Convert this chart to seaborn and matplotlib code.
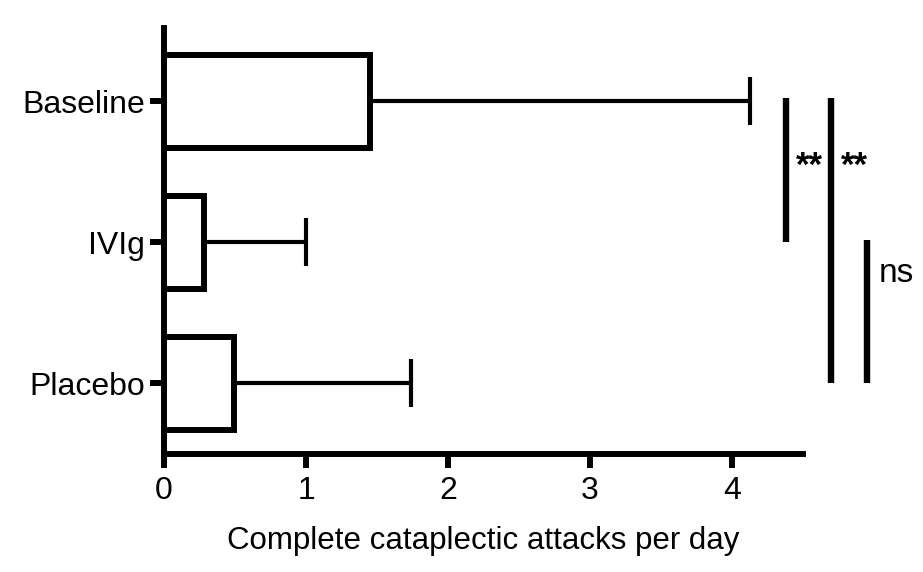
import pandas as pd
import seaborn as sns
import matplotlib.pyplot as plt

groups = ["Baseline", "IVIg", "Placebo"]
means = [1.45, 0.28, 0.49]
upper = [4.13, 1.0, 1.74]  # end of the error bar
xticks = [0, 1, 2, 3, 4]

sns.set_style("ticks")
plt.rcParams['font.family'] = ['Liberation Sans', 'DejaVu Sans']
plt.rcParams['text.color'] = 'black'
plt.rcParams['axes.labelcolor'] = 'black'

df = pd.DataFrame({"group": groups, "mean": means, "upper": upper})

fig = plt.figure(figsize=(9.23, 5.72), dpi=100)
ax = fig.add_axes([0.1777, 0.2063, 0.6923, 0.745])

# error bars first, bars are drawn on top
err = df["upper"] - df["mean"]
ax.errorbar(df["mean"], range(len(groups)), xerr=[[0] * len(groups), err],
            fmt='none', ecolor='black', elinewidth=3, capsize=17, capthick=3, zorder=1)

sns.barplot(data=df, x="mean", y="group", orient="h", color="white",
            edgecolor="black", linewidth=4.3, width=0.66, errorbar=None, ax=ax, zorder=2)

ax.set_xlim(0, 4.5)
ax.set_ylim(2.5, -0.52)
ax.set_xticks(xticks)
ax.set_xticklabels([str(t) for t in xticks])
ax.tick_params(axis='both', width=4.3, length=10, labelsize=23, color='black', labelcolor='black')
ax.tick_params(axis='x', pad=6)
ax.set_xlabel("Complete cataplectic attacks per day", fontsize=22.5, labelpad=14)
ax.set_ylabel("")
for s in ["left", "bottom"]:
    ax.spines[s].set_linewidth(4.3)
    ax.spines[s].set_color("black")
sns.despine(ax=ax)

# significance brackets
sig = [(4.38, 0, 1, "**", 4.45, 0.46), (4.70, 0, 2, "**", 4.77, 0.46), (4.95, 1, 2, "ns", 5.03, 1.22)]
for x, y0, y1, lab, tx, ty in sig:
    ax.plot([x, x], [y0 - 0.02, y1], color='black', lw=4.6, clip_on=False, solid_capstyle='butt')
    if lab == "ns":
        ax.text(tx, ty, lab, fontsize=24, va='center', ha='left', clip_on=False)
    else:
        ax.text(tx, ty, lab, fontsize=25, fontweight='bold', va='center', ha='left', clip_on=False)

fig.savefig("out.png", dpi=100)
